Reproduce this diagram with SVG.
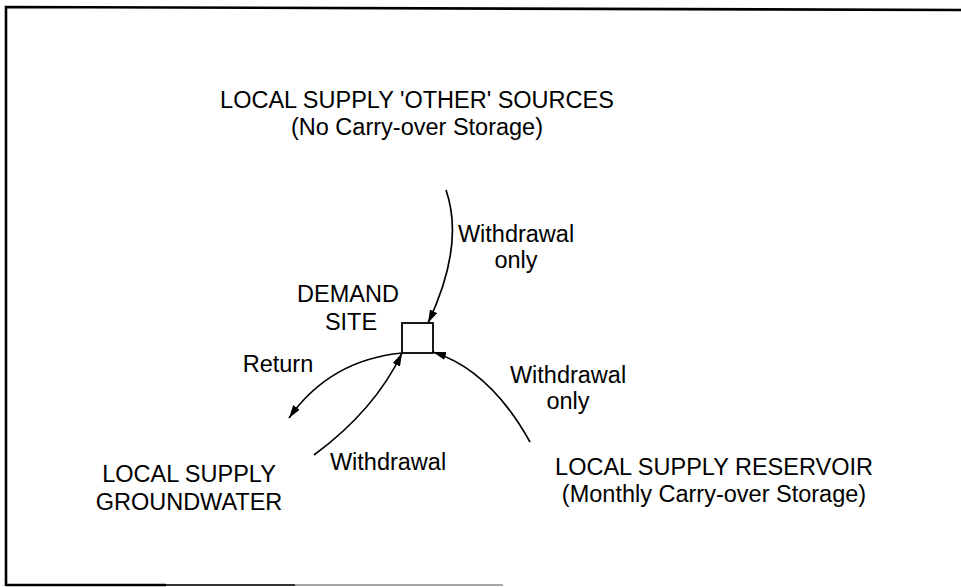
<svg xmlns="http://www.w3.org/2000/svg" width="961" height="587" viewBox="0 0 961 587">
<style>
text{font-family:"Liberation Sans",Arial,sans-serif;font-size:23.5px;fill:#000}
.c{text-anchor:middle}
.ln{fill:none;stroke:#000;stroke-width:1.7}
.bd{fill:none;stroke:#000;stroke-width:2.6}
</style>
<defs>
<marker id="ah" viewBox="0 0 13 8" refX="13" refY="4" markerWidth="13" markerHeight="8" markerUnits="userSpaceOnUse" orient="auto">
<path d="M0,0 L13,4 L0,8 Z" fill="#000"/>
</marker>
</defs>
<rect width="961" height="587" fill="#fff"/>
<g id="border">
<path class="bd" d="M6,586 L6,7 L961,10"/>
<path class="bd" d="M6,585 L166,585"/>
<path d="M166,585 L295,585" stroke="#333" stroke-width="2"/>
<path d="M295,585 L503,585" stroke="#888" stroke-width="1.5"/>
</g>
<g id="connectors">
<path class="ln" d="M446,190 Q465,245 428,323" marker-end="url(#ah)"/>
<path class="ln" d="M402,353 Q330,360 289,418" marker-end="url(#ah)"/>
<path class="ln" d="M314,455 Q375,410 402,353" marker-end="url(#ah)"/>
<path class="ln" d="M530,442 Q490,370 433,352" marker-end="url(#ah)"/>
</g>
<g id="demand-site">
<rect x="402" y="323" width="31" height="30" fill="none" stroke="#000" stroke-width="1.8"/>
<text class="c" x="348" y="302">DEMAND</text>
<text class="c" x="351" y="330">SITE</text>
</g>
<g id="other-sources">
<text class="c" x="417" y="108">LOCAL SUPPLY 'OTHER' SOURCES</text>
<text class="c" x="417" y="135">(No Carry-over Storage)</text>
</g>
<g id="groundwater">
<text class="c" x="189" y="482">LOCAL SUPPLY</text>
<text class="c" x="189" y="510">GROUNDWATER</text>
</g>
<g id="reservoir">
<text class="c" x="714" y="475">LOCAL SUPPLY RESERVOIR</text>
<text class="c" x="714" y="502">(Monthly Carry-over Storage)</text>
</g>
<g id="labels">
<text class="c" x="516" y="242">Withdrawal</text>
<text class="c" x="516" y="268">only</text>
<text class="c" x="278" y="372">Return</text>
<text class="c" x="568" y="383">Withdrawal</text>
<text class="c" x="568" y="409">only</text>
<text class="c" x="388" y="470">Withdrawal</text>
</g>
</svg>
